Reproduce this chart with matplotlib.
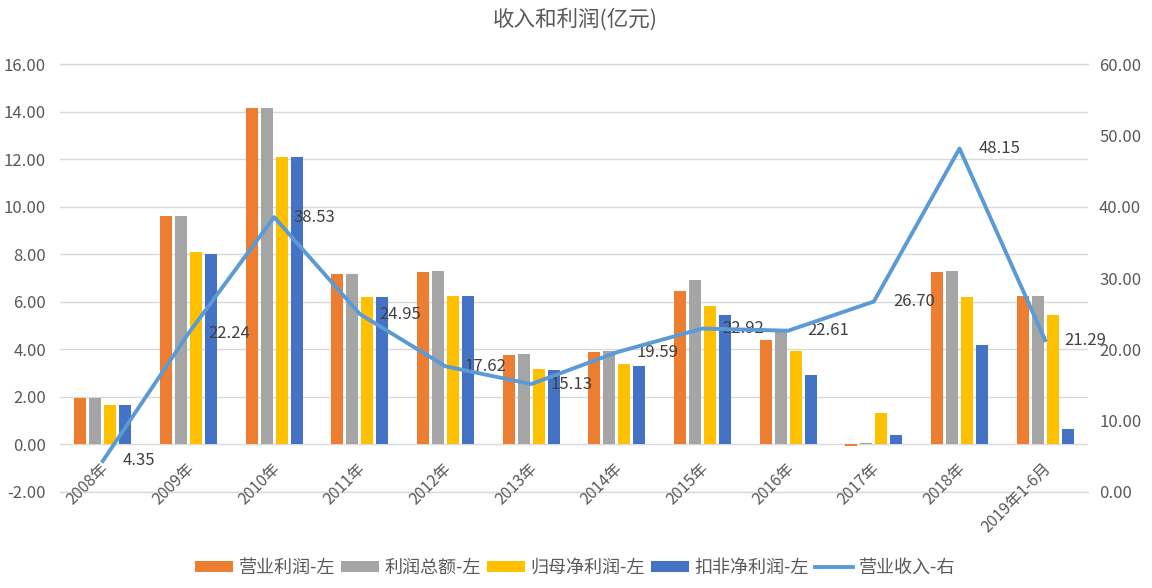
import matplotlib
matplotlib.use("Agg")
import matplotlib.pyplot as plt
import matplotlib.transforms as mtransforms
import numpy as np
from matplotlib.patches import Patch
from matplotlib.lines import Line2D

plt.rcParams['font.family'] = ['Noto Sans CJK SC', 'DejaVu Sans']

categories = ["2008年", "2009年", "2010年", "2011年", "2012年", "2013年",
              "2014年", "2015年", "2016年", "2017年", "2018年", "2019年1-6月"]
op_profit = [1.97, 9.60, 14.15, 7.15, 7.24, 3.75, 3.88, 6.44, 4.38, -0.05, 7.24, 6.23]
total_profit = [1.97, 9.60, 14.15, 7.15, 7.30, 3.81, 3.92, 6.92, 4.83, 0.05, 7.30, 6.23]
net_profit = [1.65, 8.08, 12.10, 6.22, 6.26, 3.19, 3.37, 5.81, 3.95, 1.33, 6.18, 5.43]
deducted_profit = [1.65, 8.02, 12.08, 6.22, 6.26, 3.11, 3.32, 5.43, 2.90, 0.39, 4.20, 0.64]
revenue = [4.35, 22.24, 38.53, 24.95, 17.62, 15.13, 19.59, 22.92, 22.61, 26.70, 48.15, 21.29]

series_names = ["营业利润-左", "利润总额-左", "归母净利润-左", "扣非净利润-左"]
line_name = "营业收入-右"
colors = ["#ED7D31", "#A5A5A5", "#FFC000", "#4472C4"]
line_color = "#5B9BD5"
left_ticks = [-2, 0, 2, 4, 6, 8, 10, 12, 14, 16]
right_ticks = [0, 10, 20, 30, 40, 50, 60]

fig = plt.figure(figsize=(11.52, 5.88), dpi=100)
ax = fig.add_axes([60/1152, 1-492/588, 1028/1152, 428/588])
ax2 = ax.twinx()

x = np.arange(len(categories))
bw = 0.14
step = 0.175
for i, (vals, c) in enumerate(zip([op_profit, total_profit, net_profit, deducted_profit], colors)):
    ax.bar(x + (i - 1.5) * step, vals, width=bw, color=c, zorder=3)

ax.set_xlim(-0.5, len(categories) - 0.5)
ax.set_ylim(-2, 16)
ax.set_yticks(left_ticks)
ax.set_yticklabels([f"{v:.2f}" for v in left_ticks])
ax.grid(axis='y', color='#D9D9D9', linewidth=1, zorder=0)
ax.axhline(-2, color='#D9D9D9', linewidth=1, zorder=0, clip_on=False)
ax.axhline(16, color='#D9D9D9', linewidth=1, zorder=0, clip_on=False)
ax.set_axisbelow(True)
for s in ax.spines.values():
    s.set_visible(False)
ax.spines['bottom'].set_position(('data', 0))
ax.set_xticks(x)
ax.set_xticklabels(categories, rotation=45, ha='right', va='top', rotation_mode='anchor')
ax.tick_params(axis='x', length=0, pad=11, labelsize=11.5, labelcolor='#595959')
ax.tick_params(axis='y', length=0, pad=10, labelsize=12, labelcolor='#595959')
shift = mtransforms.ScaledTranslation(-3/100, 0, fig.dpi_scale_trans)
for lbl in ax.get_xticklabels():
    lbl.set_transform(lbl.get_transform() + shift)

ax2.plot(x, revenue, color=line_color, linewidth=2.8, zorder=4)
for xi, v in zip(x, revenue):
    ax2.annotate(f"{v:.2f}", (xi, v), xytext=(14, 0), textcoords='offset points',
                 ha='left', va='center', fontsize=12, color='#404040')
ax2.set_ylim(0, 60)
ax2.set_yticks(right_ticks)
ax2.set_yticklabels([f"{v:.2f}" for v in right_ticks])
ax2.tick_params(axis='y', length=0, pad=8, labelsize=12, labelcolor='#595959')
for s in ax2.spines.values():
    s.set_visible(False)

fig.text(575/1152, 1-20/588, "收入和利润(亿元)", ha='center', va='center', fontsize=15.5, color='#595959')

handles = [Patch(facecolor=c, edgecolor='none') for c in colors]
handles.append(Line2D([0], [0], color=line_color, linewidth=2.8))
fig.legend(handles, series_names + [line_name], loc='center', bbox_to_anchor=(575/1152, 1-568/588),
           ncol=5, frameon=False, fontsize=13, handlelength=2.1, handleheight=0.55,
           columnspacing=0.35, handletextpad=0.3, labelcolor='#595959')

fig.savefig("out.png", dpi=100)
